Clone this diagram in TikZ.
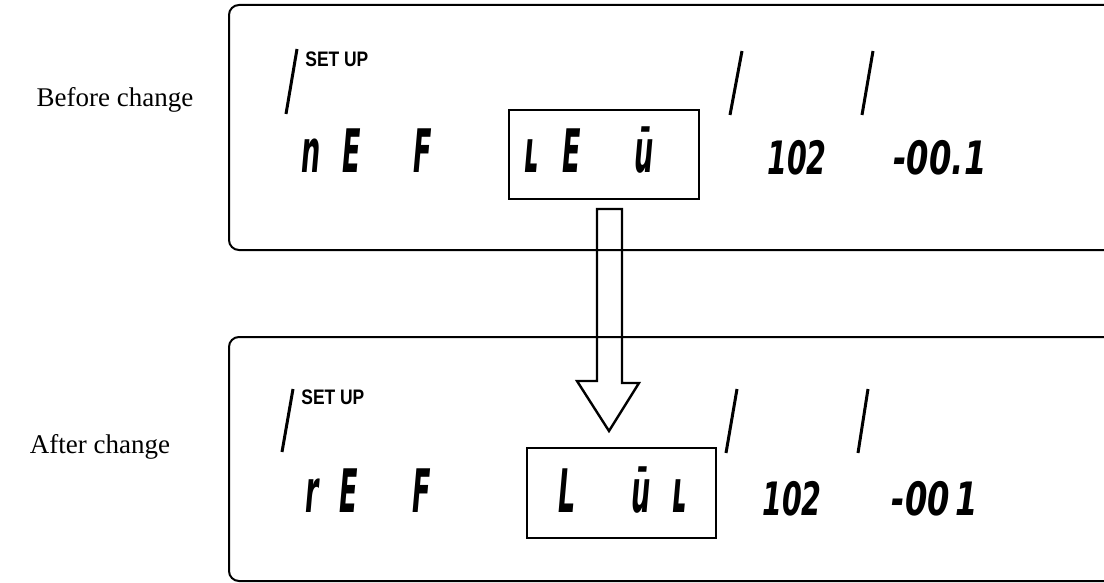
\documentclass[tikz,border=0pt]{standalone}
\usepackage{graphicx}
\usepackage{fontspec}
\setmainfont{Liberation Serif}
\newfontfamily\segfont{DejaVu Sans}
\newfontfamily\lblfont{Liberation Sans}
\newcommand{\sgl}[1]{\scalebox{0.45}[1]{#1}}
\newcommand{\sgd}[1]{\scalebox{0.62}[1]{#1}}
\tikzset{
  panel/.style={draw, line width=1pt, rounded corners=5pt},
  selbox/.style={draw, line width=1pt, rectangle, inner sep=0pt},
  mark slash/.style={line width=1.5pt},
  lbl/.style={font=\fontsize{13.5}{16}\selectfont, inner sep=0pt},
  setuplbl/.style={font=\lblfont\bfseries\fontsize{10.5}{12}\selectfont, inner sep=0pt, anchor=base west},
  segchar/.style={font=\segfont\bfseries\itshape\fontsize{30}{34}\selectfont, inner sep=0pt, anchor=base},
  segdig/.style={font=\segfont\bfseries\itshape\fontsize{23}{26}\selectfont, inner sep=0pt, anchor=base},
  blockarrow/.style={draw, line width=1.2pt, line join=miter}
}
\begin{document}
\begin{tikzpicture}[x=0.5pt,y=-0.5pt]
\useasboundingbox (0,0) rectangle (1104,583);
\begin{scope}
\clip (0,0) rectangle (1104,583);
\draw[panel] (229,5) rectangle (1140,250);
\draw[panel] (229,337) rectangle (1140,581);
\end{scope}

% side labels
\node[lbl] (before) at (115,100) {Before change};
\node[lbl] (after) at (100,447) {After change};

% ---------- top display ----------
\draw[mark slash] (286,114) -- (297,49);
\node[setuplbl] (su1) at (305,67) {\scalebox{0.83}[1]{SET UP}};
\draw[mark slash] (730,115) -- (742,51);
\draw[mark slash] (862,115) -- (873,51);

\node[segchar] (t1) at (311,173) {\sgl{n}};
\node[segchar] (t2) at (352,173) {\sgl{E}};
\node[segchar] (t3) at (423,173) {\sgl{F}};

\node[selbox, minimum width=95pt, minimum height=44.5pt] (boxA) at (604,154.5) {};
\node[segchar] (t4) at (532,173) {\sgl{ʟ}};
\node[segchar] (t5) at (572,173) {\sgl{E}};
\node[segchar] (t6) at (644,173) {\sgl{ū}};

\node[segdig] (t7) at (797,175) {\sgd{102}};
\node[segdig] (t8) at (940,175) {\scalebox{0.7}[1]{-00.1}};

% ---------- bottom display ----------
\draw[mark slash] (282,452) -- (293,389);
\node[setuplbl] (su2) at (301,404) {\scalebox{0.83}[1]{SET UP}};
\draw[mark slash] (726,453) -- (737,389);
\draw[mark slash] (858,453) -- (868,389);

\node[segchar] (b1) at (312,512) {\sgl{r}};
\node[segchar] (b2) at (349,512) {\sgl{E}};
\node[segchar] (b3) at (422,512) {\sgl{F}};

\node[selbox, minimum width=94.5pt, minimum height=45pt] (boxB) at (621.5,493) {};
\node[segchar] (b4) at (567,512) {\sgl{L}};
\node[segchar] (b5) at (641,512) {\sgl{ū}};
\node[segchar] (b6) at (680,512) {\sgl{ʟ}};

\node[segdig] (b7) at (792,515) {\sgd{102}};
\node[segdig] (b8) at (935,515) {\scalebox{0.7}[1]{-00\hspace{4pt}1}};

% ---------- block arrow from boxA to boxB ----------
\coordinate (aStart) at ([xshift=2.5pt,yshift=-4.5pt]boxA.south);
\coordinate (aTip) at ([xshift=-6.25pt,yshift=8pt]boxB.north);
\draw[blockarrow] (aStart) ++(-12,0) -- ++(25,0) -- ++(0,174) -- ++(17,0) -- (aTip) -- ++(-32,-50) -- ++(20,0) -- cycle;
\end{tikzpicture}
\end{document}
